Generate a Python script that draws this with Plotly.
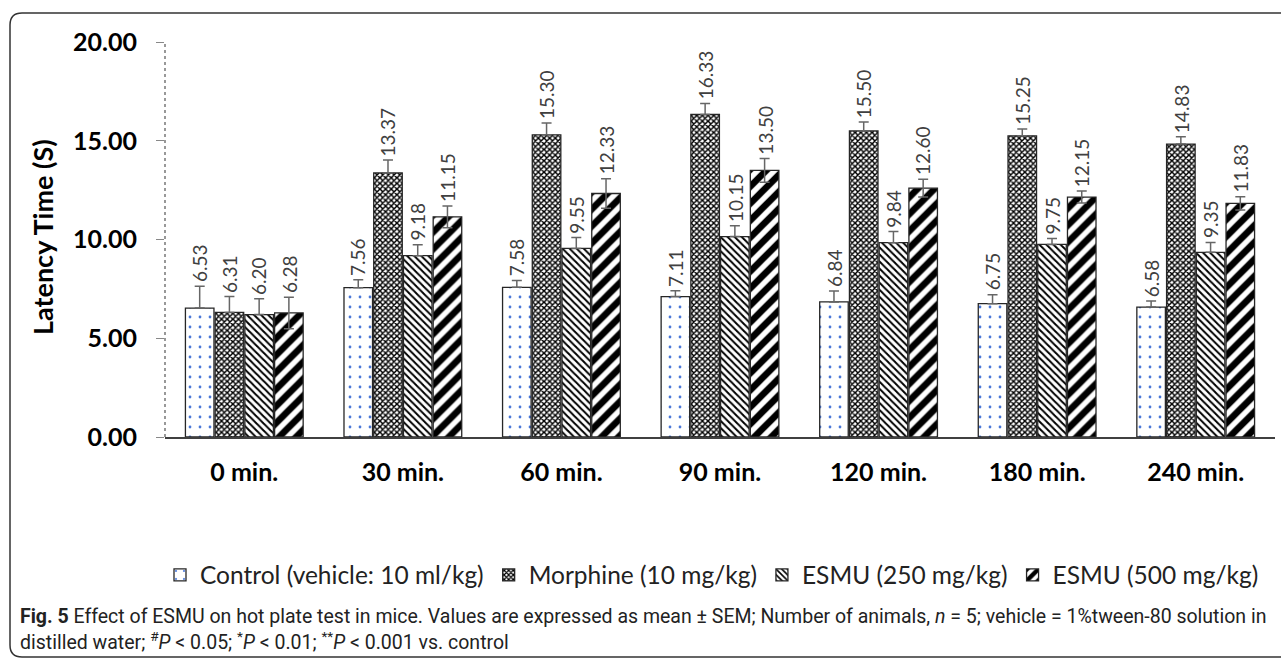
import plotly.graph_objects as go

categories = ["0 min.", "30 min.", "60 min.", "90 min.", "120 min.", "180 min.", "240 min."]
series_names = ["Control (vehicle: 10 ml/kg)", "Morphine (10 mg/kg)", "ESMU (250 mg/kg)", "ESMU (500 mg/kg)"]
control = [6.53, 7.56, 7.58, 7.11, 6.84, 6.75, 6.58]
morphine = [6.31, 13.37, 15.30, 16.33, 15.50, 15.25, 14.83]
esmu250 = [6.20, 9.18, 9.55, 10.15, 9.84, 9.75, 9.35]
esmu500 = [6.28, 11.15, 12.33, 13.50, 12.60, 12.15, 11.83]
control_sem = [1.1, 0.4, 0.35, 0.3, 0.55, 0.45, 0.3]
morphine_sem = [0.8, 0.65, 0.6, 0.55, 0.45, 0.35, 0.37]
esmu250_sem = [0.8, 0.55, 0.55, 0.55, 0.57, 0.3, 0.5]
esmu500_sem = [0.8, 0.55, 0.75, 0.6, 0.45, 0.3, 0.34]
y_ticks = [0, 5, 10, 15, 20]

W, H = 1281, 664
ML, MR, MT, MB = 165, 6, 42, 227
PW, PH = W - ML - MR, H - MT - MB

def px(x):
    return (x - ML) / PW

def py(y):
    return (H - MB - y) / PH

values = [control, morphine, esmu250, esmu500]
sems = [control_sem, morphine_sem, esmu250_sem, esmu500_sem]
patterns = [
    dict(shape=".", fgcolor="#4a78d8", bgcolor="white", size=10, solidity=0.06, fgopacity=1),
    dict(shape="x", fgcolor="#000000", bgcolor="white", size=4, solidity=0.6, fgopacity=1),
    dict(shape="\\", fgcolor="#000000", bgcolor="white", size=5, solidity=0.4, fgopacity=1),
    dict(shape="/", fgcolor="#000000", bgcolor="white", size=12, solidity=0.55, fgopacity=1),
]

BARGAP = 0.25
fig = go.Figure()
for k in range(4):
    both = (k == 3)
    err = dict(type="data", array=sems[k], visible=True, color="#666666", thickness=1.5, width=5)
    if not both:
        err.update(symmetric=False, arrayminus=[0] * len(categories))
    fig.add_trace(go.Bar(
        x=categories, y=values[k], name=series_names[k],
        marker=dict(color="white", pattern=patterns[k], line=dict(color="#262626", width=1.3)),
        error_y=err,
    ))

annotations = []
slot = (1 - BARGAP) / 4
for k in range(4):
    for i, (v, e) in enumerate(zip(values[k], sems[k])):
        annotations.append(dict(
            x=i + (k - 1.5) * slot, y=v + e, xref="x", yref="y",
            text=f"{v:.2f}", showarrow=False, textangle=-90,
            xanchor="center", yanchor="bottom", yshift=2,
            font=dict(family="Lato", size=19, color="#404040"),
        ))

annotations.append(dict(
    x=px(42), y=py(237), xref="paper", yref="paper", text="<b>Latency Time (S)</b>",
    showarrow=False, textangle=-90, xanchor="center", yanchor="middle",
    font=dict(family="Lato", size=27, color="#000000"),
))

cap_font = dict(family="Roboto", size=19.5, color="#222222")
annotations.append(dict(
    x=px(18), y=py(616), xref="paper", yref="paper", xanchor="left", yanchor="middle",
    showarrow=False, align="left", font=cap_font,
    text="<b>Fig. 5</b> Effect of ESMU on hot plate test in mice. Values are expressed as mean ± SEM; Number of animals, <i>n</i> = 5; vehicle = 1%tween-80 solution in",
))
annotations.append(dict(
    x=px(18), y=py(641), xref="paper", yref="paper", xanchor="left", yanchor="middle",
    showarrow=False, align="left", font=cap_font,
    text="distilled water; <sup>#</sup><i>P</i> &lt; 0.05; <sup>*</sup><i>P</i> &lt; 0.01; <sup>**</sup><i>P</i> &lt; 0.001 vs. control",
))

# rounded border
L, T, R, B, r = 10, 13, 1295, 657, 12
rx, ry = r / PW, r / PH
path = (f"M {px(L)+rx},{py(T)} L {px(R)-rx},{py(T)} Q {px(R)},{py(T)} {px(R)},{py(T)-ry} "
        f"L {px(R)},{py(B)+ry} Q {px(R)},{py(B)} {px(R)-rx},{py(B)} "
        f"L {px(L)+rx},{py(B)} Q {px(L)},{py(B)} {px(L)},{py(B)+ry} "
        f"L {px(L)},{py(T)-ry} Q {px(L)},{py(T)} {px(L)+rx},{py(T)} Z")
shapes = [
    dict(type="path", path=path, xref="paper", yref="paper", line=dict(color="#333333", width=1.5)),
    dict(type="line", xref="paper", yref="paper", x0=0, x1=0, y0=0, y1=1,
         line=dict(color="#555555", width=1.2, dash="dot")),
]

fig.update_layout(
    width=W, height=H,
    margin=dict(l=ML, r=MR, t=MT, b=MB),
    paper_bgcolor="white", plot_bgcolor="white",
    barmode="group", bargap=BARGAP, bargroupgap=0.04,
    showlegend=True,
    legend=dict(orientation="h", x=px(712), y=py(575), xanchor="center", yanchor="middle",
                font=dict(family="Lato", size=24.5, color="#222222"), itemwidth=30,
                tracegroupgap=0, bgcolor="rgba(0,0,0,0)"),
    annotations=annotations,
    shapes=shapes,
    xaxis=dict(showline=True, linecolor="#404040", linewidth=1.5, ticks="", showgrid=False,
               tickfont=dict(family="Lato", size=25, color="#000000", weight="bold"),
               ticklabelstandoff=12, fixedrange=True),
    yaxis=dict(range=[0, 20], tickvals=y_ticks, tickformat=".2f", showline=False, showgrid=False,
               zeroline=False, ticks="outside", ticklen=8, tickcolor="#888888", tickwidth=1,
               tickfont=dict(family="Lato", size=25, color="#000000", weight="bold"),
               ticklabelstandoff=14, fixedrange=True),
)

fig.write_html("out.html")
